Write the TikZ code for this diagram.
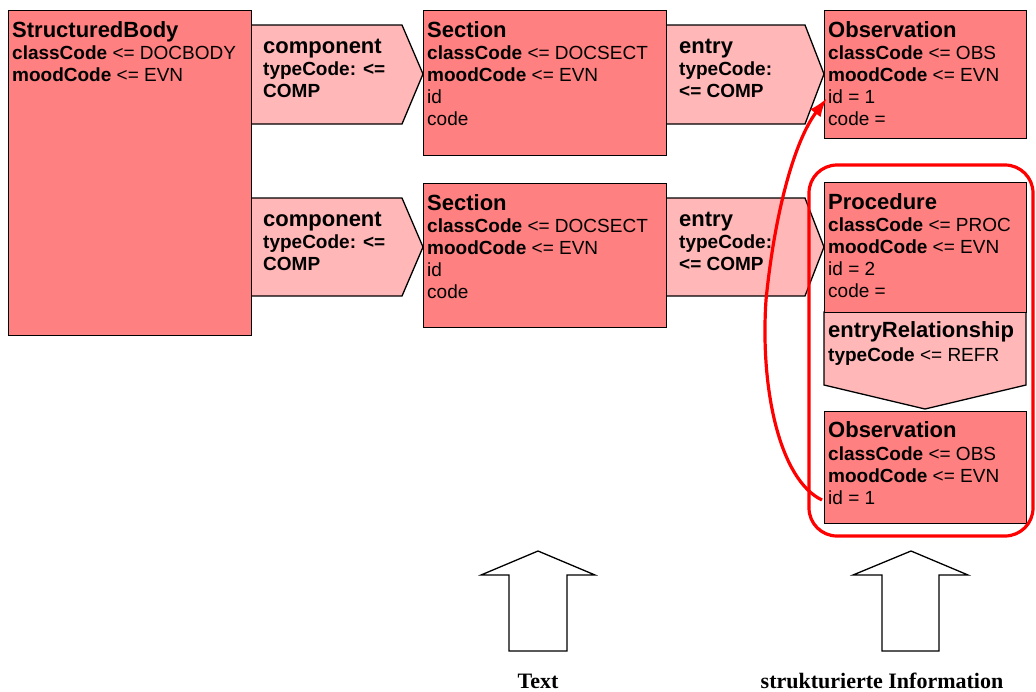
\documentclass[tikz,border=0pt]{standalone}
\usepackage{fontspec}
\setmainfont{Liberation Sans}
\newfontfamily\timesfont{Liberation Serif}
\usetikzlibrary{arrows.meta}
\definecolor{boxred}{RGB}{255,128,128}
\definecolor{linkred}{RGB}{255,183,183}
\definecolor{markred}{RGB}{255,0,0}
\tikzset{
  classbox/.style={draw=black, line width=1.3pt, fill=boxred, inner sep=0pt, anchor=north west},
  linkshape/.style={draw=black, line width=1.3pt, fill=linkred, line join=miter},
  ttl/.style={anchor=base west, inner sep=0pt, font=\fontsize{22}{26}\selectfont\bfseries},
  attr/.style={anchor=base west, inner sep=0pt, font=\fontsize{19}{22}\selectfont},
  battr/.style={anchor=base west, inner sep=0pt, font=\fontsize{19}{22}\selectfont\bfseries},
  hollow/.style={draw=black, line width=1.3pt, fill=white},
  caption/.style={anchor=base, inner sep=0pt, font=\fontsize{22}{26}\selectfont\timesfont\bfseries},
  markline/.style={draw=markred, line width=3.2pt},
}
\begin{document}
\begin{tikzpicture}[x=1pt,y=-1pt]
\useasboundingbox (0,0) rectangle (1036,691);
% link shapes (drawn first)
\draw[linkshape] (251,25) -- (402,25) -- (423,74) -- (402,124) -- (251,124) -- cycle;
\draw[linkshape] (251,198) -- (402,198) -- (423,247) -- (402,296) -- (251,296) -- cycle;
\draw[linkshape] (666,25) -- (805,25) -- (824,74) -- (805,124) -- (666,124) -- cycle;
\draw[linkshape] (666,198) -- (805,198) -- (824,247) -- (805,296) -- (666,296) -- cycle;
\draw[linkshape] (824,312) -- (1026,312) -- (1026,385) -- (925,409) -- (824,385) -- cycle;
% class boxes
\node[classbox, minimum width=243pt, minimum height=325pt] (sb) at (8,10) {};
\node[classbox, minimum width=243pt, minimum height=145pt] (sec1) at (423,10) {};
\node[classbox, minimum width=243pt, minimum height=144pt] (sec2) at (423,183) {};
\node[classbox, minimum width=202pt, minimum height=128pt] (obs1) at (824,10) {};
\node[classbox, minimum width=202pt, minimum height=130pt] (proc) at (824,182) {};
\node[classbox, minimum width=202pt, minimum height=112pt] (obs2) at (824,411) {};
% StructuredBody
\node[ttl] (sbt) at (12,37) {StructuredBody};
\node[attr] (sb1) at (12,59) {\textbf{classCode} <= DOCBODY};
\node[attr] (sb2) at (12,81) {\textbf{moodCode} <= EVN};
% component 1
\node[ttl] (c1t) at (263,53) {component};
\node[battr] (c11) at (263,75) {typeCode: <=};
\node[battr] (c12) at (263,97) {COMP};
% component 2
\node[ttl] (c2t) at (263,226) {component};
\node[battr] (c21) at (263,248) {typeCode: <=};
\node[battr] (c22) at (263,270) {COMP};
% Section 1
\node[ttl] (s1t) at (427,37) {Section};
\node[attr] (s11) at (427,59) {\textbf{classCode} <= DOCSECT};
\node[attr] (s12) at (427,81) {\textbf{moodCode} <= EVN};
\node[attr] (s13) at (427,103) {id};
\node[attr] (s14) at (427,125) {code};
% Section 2
\node[ttl] (s2t) at (427,210) {Section};
\node[attr] (s21) at (427,232) {\textbf{classCode} <= DOCSECT};
\node[attr] (s22) at (427,254) {\textbf{moodCode} <= EVN};
\node[attr] (s23) at (427,276) {id};
\node[attr] (s24) at (427,298) {code};
% entry 1
\node[ttl] (e1t) at (679,53) {entry};
\node[battr] (e11) at (679,75) {typeCode:};
\node[battr] (e12) at (679,97) {<= COMP};
% entry 2
\node[ttl] (e2t) at (679,226) {entry};
\node[battr] (e21) at (679,248) {typeCode:};
\node[battr] (e22) at (679,270) {<= COMP};
% Observation 1
\node[ttl] (o1t) at (828,37) {Observation};
\node[attr] (o11) at (828,59) {\textbf{classCode} <= OBS};
\node[attr] (o12) at (828,81) {\textbf{moodCode} <= EVN};
\node[attr] (o13) at (828,103) {id = 1};
\node[attr] (o14) at (828,125) {code =};
% Procedure
\node[ttl] (pt) at (828,209) {Procedure};
\node[attr] (p1) at (828,231) {\textbf{classCode} <= PROC};
\node[attr] (p2) at (828,253) {\textbf{moodCode} <= EVN};
\node[attr] (p3) at (828,275) {id = 2};
\node[attr] (p4) at (828,297) {code =};
% entryRelationship
\node[ttl] (ert) at (828,337) {entryRelationship};
\node[attr] (er1) at (828,361) {\textbf{typeCode} <= REFR};
% Observation 2
\node[ttl] (o2t) at (828,437) {Observation};
\node[attr] (o21) at (828,460) {\textbf{classCode} <= OBS};
\node[attr] (o22) at (828,482) {\textbf{moodCode} <= EVN};
\node[attr] (o23) at (828,504) {id = 1};
% hollow arrows
\draw[hollow] (509,651) -- (509,575) -- (481,575) -- (538,551) -- (595,575) -- (567,575) -- (567,651) -- cycle;
\draw[hollow] (882,651) -- (882,575) -- (853,575) -- (911,551) -- (968,575) -- (939,575) -- (939,651) -- cycle;
\node[caption] (cap1) at (538,688) {Text};
\node[caption] (cap2) at (882,688) {strukturierte Information};
% red marking
\draw[markline, rounded corners=28pt] (809,165) rectangle (1033,536);
\coordinate (cs) at (822,500);
\coordinate (ce) at (827,98);
\draw[markline, -{Latex[length=19pt,width=13pt]}] (cs) .. controls (780,480) and (760,390) .. (766,300) .. controls (775,210) and (795,140) .. (ce);
\end{tikzpicture}
\end{document}
